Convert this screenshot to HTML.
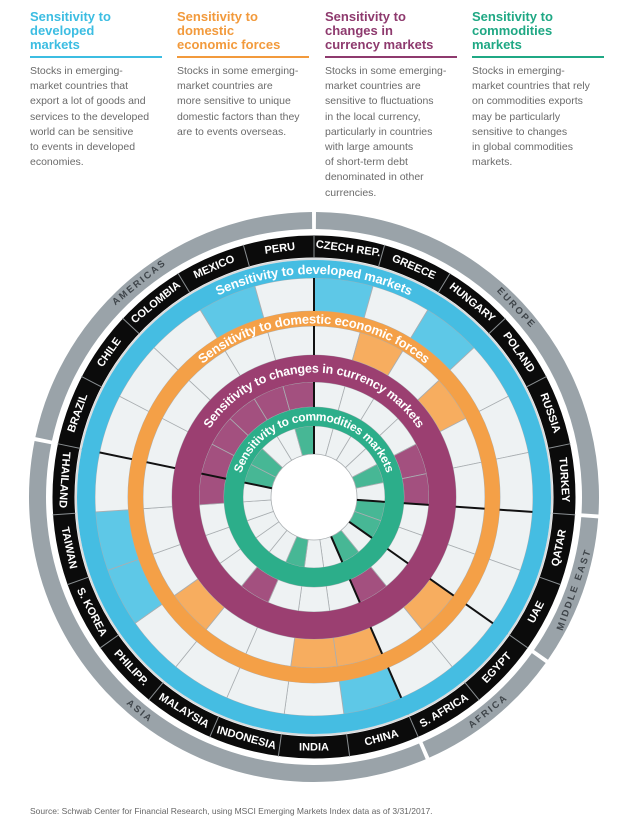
<!DOCTYPE html>
<html><head><meta charset="utf-8">
<style>
body{margin:0;background:#fff;width:640px;height:831px;overflow:hidden;font-family:"Liberation Sans",sans-serif}
.col{position:absolute;top:10px;width:140px}
.col h3{margin:0;font-size:13px;line-height:14px;font-weight:bold;height:42px}
.col .rule{height:2px;margin-top:4px;width:132px}
.col p{margin:6px 0 0;font-size:10.5px;line-height:15.2px;color:#6a6a6a;white-space:nowrap}
#src{position:absolute;left:30px;top:806px;font-size:8.5px;color:#666}
svg{position:absolute;left:0;top:0}
</style></head><body>
<div class="col" style="left:30px"><h3 style="color:#3cbde2">Sensitivity to<br>developed<br>markets</h3><div class="rule" style="background:#3cbde2"></div><p>Stocks in emerging-<br>market countries that<br>export a lot of goods and<br>services to the developed<br>world can be sensitive<br>to events in developed<br>economies.</p></div>
<div class="col" style="left:177px"><h3 style="color:#f29a3c">Sensitivity to<br>domestic<br>economic forces</h3><div class="rule" style="background:#f29a3c"></div><p>Stocks in some emerging-<br>market countries are<br>more sensitive to unique<br>domestic factors than they<br>are to events overseas.</p></div>
<div class="col" style="left:325px"><h3 style="color:#8e3a6e">Sensitivity to<br>changes in<br>currency markets</h3><div class="rule" style="background:#8e3a6e"></div><p>Stocks in some emerging-<br>market countries are<br>sensitive to fluctuations<br>in the local currency,<br>particularly in countries<br>with large amounts<br>of short-term debt<br>denominated in other<br>currencies.</p></div>
<div class="col" style="left:472px"><h3 style="color:#1fa884">Sensitivity to<br>commodities<br>markets</h3><div class="rule" style="background:#1fa884"></div><p>Stocks in emerging-<br>market countries that rely<br>on commodities exports<br>may be particularly<br>sensitive to changes<br>in global commodities<br>markets.</p></div>
<svg id="chart" width="640" height="831"></svg>
<div id="src">Source: Schwab Center for Financial Research, using MSCI Emerging Markets Index data as of 3/31/2017.</div>
<script>
const countries=["CZECH REP.","GREECE","HUNGARY","POLAND","RUSSIA","TURKEY","QATAR","UAE","EGYPT","S. AFRICA","CHINA","INDIA","INDONESIA","MALAYSIA","PHILIPP.","S. KOREA","TAIWAN","THAILAND","BRAZIL","CHILE","COLOMBIA","MEXICO","PERU"];
const regionNames=["EUROPE","MIDDLE EAST","AFRICA","ASIA","AMERICAS"];
const regionStart=[0,6,8,10,18];
const regionEnd=[5,7,9,17,22];
const developed=[1,0,1,0,0,0,0,0,0,0,1,0,0,0,0,1,1,0,0,0,0,1,0];
const domestic=[0,1,0,1,0,0,0,0,1,0,1,1,0,0,1,0,0,0,0,0,0,0,0];
const currency=[0,0,0,0,1,1,0,0,0,1,0,0,0,1,0,0,0,1,1,1,1,1,1];
const commodities=[0,0,0,0,1,0,1,1,0,1,0,0,1,0,0,0,0,0,1,1,0,0,1];

const svg=document.getElementById('chart');
const NS="http://www.w3.org/2000/svg";
const cx=314,cy=497,N=countries.length,S=360/N;
function P(r,a){const t=a*Math.PI/180;return [cx+r*Math.sin(t),cy-r*Math.cos(t)];}
function sector(r0,r1,a0,a1){const p1=P(r1,a0),p2=P(r1,a1),p3=P(r0,a1),p4=P(r0,a0);const l=(a1-a0)>180?1:0;
return `M${p1}A${r1},${r1} 0 ${l} 1 ${p2}L${p3}A${r0},${r0} 0 ${l} 0 ${p4}Z`;}
function mk(tag,attrs,parent){const e=document.createElementNS(NS,tag);for(const k in attrs)e.setAttribute(k,attrs[k]);(parent||svg).appendChild(e);return e;}

regionNames.forEach((nm,i)=>{
  const e=mk('path',{d:sector(268,285,regionStart[i]*S+0.4,(regionEnd[i]+1)*S-0.4),fill:'#9aa3a9'});
  
  
});
const band=mk('circle',{cx:cx,cy:cy,r:250.5,fill:'none',stroke:'#0b0b0b','stroke-width':22});


mk('circle',{cx:cx,cy:cy,r:238,fill:'none',stroke:'#d9dcde','stroke-width':2});

const layers=[
 {name:'developed',vals:developed,r0:186,r1:219,base:'#eef2f3',hi:'#5ec8e7',band:'#45bde2',b0:219,b1:237,title:'Sensitivity to developed markets',fs:13},
 {name:'domestic',vals:domestic,r0:142,r1:171,base:'#eef2f3',hi:'#f7ad5f',band:'#f4a047',b0:171,b1:186,title:'Sensitivity to domestic economic forces',fs:13},
 {name:'currency',vals:currency,r0:90,r1:115,base:'#eef2f3',hi:'#a3507f',band:'#9b3f71',b0:115,b1:142,title:'Sensitivity to changes in currency markets',fs:12.5},
 {name:'commodities',vals:commodities,r0:43,r1:71,base:'#eef2f3',hi:'#47b795',band:'#2cae8a',b0:71,b1:90,title:'Sensitivity to commodities markets',fs:12}
];
layers.forEach(L=>{
  L.vals.forEach((v,i)=>{
    const e=mk('path',{d:sector(L.r0,L.r1,i*S,(i+1)*S),fill:v?L.hi:L.base,stroke:'#a9aeb1','stroke-width':0.8});
    
    
  });
});
for(let i=0;i<N;i++){const a=P(239,i*S),b=P(262,i*S);mk('line',{x1:a[0],y1:a[1],x2:b[0],y2:b[1],stroke:'#8a8f92','stroke-width':1});}
regionStart.forEach(s=>{const a=P(43,s*S),b=P(237,s*S);mk('line',{x1:a[0],y1:a[1],x2:b[0],y2:b[1],stroke:'#111','stroke-width':2});
 const c=P(264,s*S),d=P(288,s*S);mk('line',{x1:c[0],y1:c[1],x2:d[0],y2:d[1],stroke:'#fff','stroke-width':2});});
layers.forEach((L,k)=>{
  const rm=(L.b0+L.b1)/2;
  const e=mk('circle',{cx:cx,cy:cy,r:rm,fill:'none',stroke:L.band,'stroke-width':L.b1-L.b0});
  
  
  const p1=P(rm,-100),p2=P(rm,100);
  mk('path',{id:'tp'+k,d:`M${p1}A${rm},${rm} 0 1 1 ${p2}`,fill:'none'});
  const t=mk('text',{'font-size':L.fs,'font-weight':'bold',fill:'#fff','dominant-baseline':'central','text-anchor':'middle','font-family':'Liberation Sans, sans-serif'});
  
  
  const tp=mk('textPath',{href:'#tp'+k,startOffset:'50%'},t);tp.textContent=L.title;
});
function place(txt,r,a,attrs,name){
  const flip=a>90&&a<282;
  const t=mk('text',Object.assign({transform:`translate(${cx},${cy}) rotate(${a}) translate(0,${-r})${flip?' rotate(180)':''}`,'text-anchor':'middle','dominant-baseline':'central'},attrs));
  t.textContent=txt;
  
  
}
countries.forEach((c,i)=>place(c,250.5,(i+0.5)*S,{fill:'#fff','font-size':11,'font-weight':'bold','font-family':'Liberation Sans Narrow, Liberation Sans, sans-serif'},'country-label-'+i));
regionNames.forEach((nm,i)=>place(nm,276.5,(regionStart[i]+regionEnd[i]+1)/2*S,{fill:'#3f454a','font-size':9.5,'font-weight':'bold','letter-spacing':'2','font-family':'Liberation Sans, sans-serif'},'region-label-'+i));
</script>
</body></html>
